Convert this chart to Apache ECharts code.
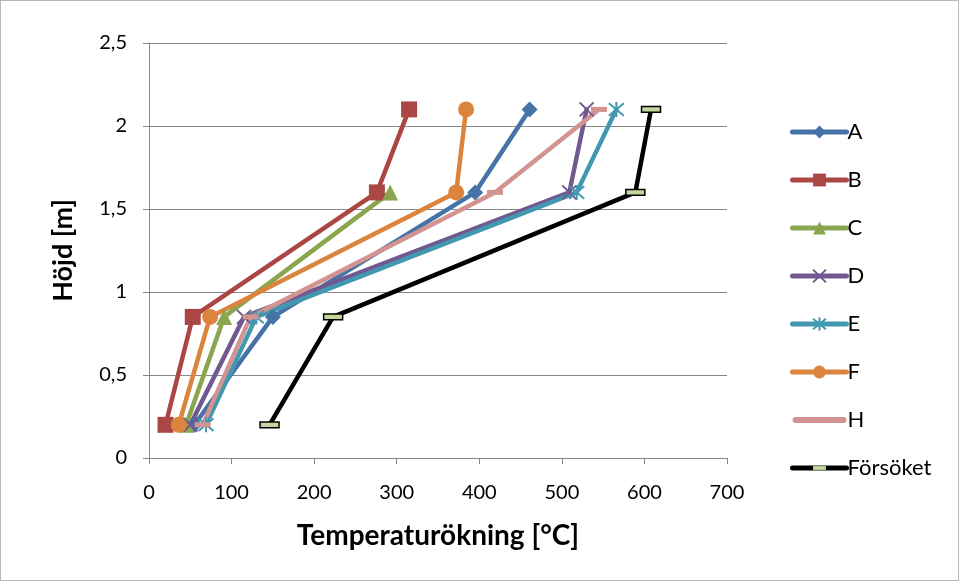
<!DOCTYPE html>
<html>
<head>
<meta charset="utf-8">
<script src="https://cdn.jsdelivr.net/npm/echarts@6/dist/echarts.min.js"></script>
<style>
  html, body { margin: 0; padding: 0; background: #fff; }
  #chart { width: 959px; height: 581px; box-sizing: border-box; border: 1px solid #b8b8b8; }
</style>
</head>
<body>
<div id="chart"></div>
<script>
// Measurement heights [m]
const heights = [0.2, 0.85, 1.6, 2.1];

// Temperature rise [°C] at each height, per case (C has no reading at the top)
const seriesNames = ['A', 'B', 'C', 'D', 'E', 'F', 'H', 'Försöket'];
const tempA = [55, 150, 395, 461];
const tempB = [20, 53, 276, 315];
const tempC = [45, 91, 292];
const tempD = [50, 115, 509, 530];
const tempE = [69, 130, 518, 566];
const tempF = [36, 74, 372, 384];
const tempH = [65, 123, 419, 545];
const tempForsoket = [146, 223, 589, 608];

const xTicks = { min: 0, max: 700, interval: 100 };
const yTicks = { min: 0, max: 2.5, interval: 0.5 };

const FONT = 'Lato, "Open Sans", sans-serif';

const X_MARK = 'path://M0,0 L10,10 M10,0 L0,10';
const STAR_MARK = 'path://M0,0 L10,10 M10,0 L0,10 M5,-1 L5,11';
const DASH_MARK = 'path://M0,0 L20,0 L20,6 L0,6 Z';
// dash centred in a square box, so it keeps its shape when drawn square (legend)
const DASH_SQUARE = 'path://M0,0 L0,0 M0,7 L20,7 L20,13 L0,13 Z M20,20 L20,20';
const BAR_ICON = 'path://M3,0 L51,0 A3,3 0 0 1 51,6 L3,6 A3,3 0 0 1 3,0 Z';

function pairs(temps) {
  return temps.map((t, i) => [t, heights[i]]);
}

function makeSeries(name, temps, color, symbol, size, extra) {
  return Object.assign({
    name: name,
    type: 'line',
    data: pairs(temps),
    symbol: symbol,
    symbolSize: size,
    showAllSymbol: true,
    lineStyle: { color: color, width: 4.5, cap: 'round', join: 'round' },
    itemStyle: { color: color },
    emphasis: { disabled: true },
    animation: false
  }, extra || {});
}

const series = [
  makeSeries('A', tempA, '#4572A7', 'diamond', 16),
  makeSeries('B', tempB, '#AA4643', 'rect', 16),
  makeSeries('C', tempC, '#89A54E', 'triangle', 16),
  makeSeries('D', tempD, '#71588F', X_MARK, 14, {
    itemStyle: { color: 'rgba(0,0,0,0)', borderColor: '#71588F', borderWidth: 2 }
  }),
  makeSeries('E', tempE, '#4198AF', STAR_MARK, 15, {
    itemStyle: { color: 'rgba(0,0,0,0)', borderColor: '#4198AF', borderWidth: 2 }
  }),
  makeSeries('F', tempF, '#DB843D', 'circle', 16),
  makeSeries('H', tempH, '#D29391', DASH_MARK, [16, 5]),
  makeSeries('Försöket', tempForsoket, '#000000', DASH_SQUARE, 19, {
    symbolKeepAspect: true,
    itemStyle: { color: '#C3D69B', borderColor: '#000000', borderWidth: 1.5 }
  })
];

const legendData = seriesNames.map(n => {
  if (n === 'H') return { name: n, icon: BAR_ICON, itemStyle: { color: '#D29391' } };
  if (n === 'Försöket') return { name: n, itemStyle: { borderWidth: 0 } };
  return { name: n };
});

const chart = echarts.init(document.getElementById('chart'), null, { renderer: 'canvas' });

chart.setOption({
  backgroundColor: '#ffffff',
  textStyle: { fontFamily: FONT },
  grid: { left: 148, right: 231, top: 42, bottom: 122 },
  xAxis: {
    type: 'value',
    min: xTicks.min, max: xTicks.max, interval: xTicks.interval,
    name: 'Temperaturökning [°C]',
    nameLocation: 'middle',
    nameGap: 64,
    nameTextStyle: { fontSize: 28, fontWeight: 'bold', color: '#000', fontFamily: FONT },
    axisLine: { show: true, lineStyle: { color: '#878787', width: 1 } },
    axisTick: { show: true, length: 6, lineStyle: { color: '#878787' } },
    axisLabel: { fontSize: 20, color: '#000', margin: 25, fontFamily: FONT },
    splitLine: { show: false }
  },
  yAxis: {
    type: 'value',
    min: yTicks.min, max: yTicks.max, interval: yTicks.interval,
    name: 'Höjd [m]',
    nameLocation: 'middle',
    nameGap: 72,
    nameTextStyle: { fontSize: 27, fontWeight: 'bold', color: '#000', fontFamily: FONT },
    axisLine: { show: true, lineStyle: { color: '#878787', width: 1 } },
    axisTick: { show: true, length: 6, lineStyle: { color: '#878787' } },
    axisLabel: {
      fontSize: 20, color: '#000', margin: 22, fontFamily: FONT,
      formatter: v => String(v).replace('.', ',')
    },
    splitLine: { show: true, lineStyle: { color: '#878787', width: 1 } }
  },
  legend: {
    orient: 'vertical',
    left: 789,
    top: 119,
    padding: 0,
    itemWidth: 54,
    itemHeight: 16,
    itemGap: 24,
    lineStyle: { width: 5 },
    textStyle: { fontSize: 22, lineHeight: 24, color: '#000', fontFamily: FONT, padding: [0, 0, 0, -4] },
    data: legendData
  },
  series: series
});
</script>
</body>
</html>
